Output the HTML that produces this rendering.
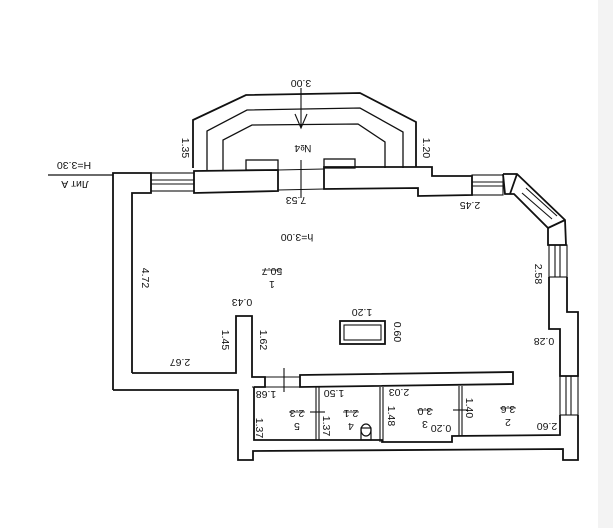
<!DOCTYPE html>
<html><head><meta charset="utf-8"><style>
html,body{margin:0;padding:0;background:#fff;}
svg{display:block;}
text{font-family:"Liberation Sans",sans-serif;font-size:10.5px;fill:#111;}
</style></head><body>
<svg width="613" height="528" viewBox="0 0 613 528" xmlns="http://www.w3.org/2000/svg">
<rect x="0" y="0" width="613" height="528" fill="#fff"/>
<rect x="598" y="0" width="15" height="528" fill="#f3f3f3"/>
<g fill="none" stroke="#111" stroke-width="1.8">
<polyline points="193,168 193,120 246,95 360,93 416,122 416,167"/>
<polyline points="207,170 207,131 247,110 360,108 403,132 403,168" stroke-width="1.3"/>
<polyline points="223,170 223,140 252,125 358,124 385,142 385,168" stroke-width="1.3"/>
<rect x="246" y="160" width="32" height="10" stroke-width="1.3"/>
<rect x="324" y="159" width="31" height="9" stroke-width="1.3"/>
<polyline points="113,390 113,173 151,173 151,193 132,193 132,373"/>
<rect x="151" y="173" width="43" height="18" stroke-width="1.1"/>
<line x1="151" y1="180" x2="194" y2="180" stroke-width="1.1"/>
<line x1="151" y1="184" x2="194" y2="184" stroke-width="1.1"/>
<polygon points="194,171 278,170 278,191 194,193" />
<line x1="278" y1="170" x2="324" y2="169" stroke-width="1.1"/>
<line x1="278" y1="190" x2="324" y2="189" stroke-width="1.1"/>
<polygon points="324,167 432,167 432,176 472,176 472,195 418,196 418,188 324,189"/>
<rect x="472" y="175" width="31" height="20" stroke-width="1.1"/>
<line x1="472" y1="182" x2="503" y2="182" stroke-width="1.1"/>
<line x1="472" y1="186" x2="503" y2="186" stroke-width="1.1"/>
<polyline points="503,174 517,174 565,220 566,245 548,245 548,228 514,194 505,194 503,174"/>
<line x1="517" y1="174" x2="510" y2="194"/>
<line x1="565" y1="220" x2="548" y2="228"/>
<line x1="522" y1="193" x2="552" y2="219" stroke-width="1.1"/>
<line x1="526" y1="188" x2="557" y2="216" stroke-width="1.1"/>
<rect x="549" y="245" width="18" height="32" stroke-width="1.1"/>
<line x1="555" y1="245" x2="555" y2="277" stroke-width="1.1"/>
<line x1="560" y1="245" x2="560" y2="277" stroke-width="1.1"/>
<polyline points="549,277 549,329 560,329 560,376 578,376 578,312 567,312 567,277"/>
<rect x="560" y="376" width="18" height="39" stroke-width="1.1"/>
<line x1="566" y1="376" x2="566" y2="415" stroke-width="1.1"/>
<line x1="571" y1="376" x2="571" y2="415" stroke-width="1.1"/>
<polyline points="560,415 560,435 452,436 452,442 382,442 382,440 254,440 254,387"/>
<polyline points="578,415 578,460 563,460 563,449 253,451 253,460 238,460 238,390 113,390"/>
<polyline points="132,373 236,373 236,316 252,316 252,377 265,377 265,387 254,387"/>
<line x1="252" y1="387" x2="300" y2="387" stroke-width="1.1"/>
<line x1="265" y1="377" x2="300" y2="377" stroke-width="1.1"/>
<line x1="284" y1="368" x2="284" y2="392" stroke-width="1.1"/>
<polygon points="300,375 513,372 513,384 300,387"/>
<line x1="316" y1="387" x2="316" y2="440" stroke-width="1.1"/>
<line x1="319" y1="387" x2="319" y2="440" stroke-width="1.1"/>
<line x1="380" y1="387" x2="380" y2="442" stroke-width="1.1"/>
<line x1="383" y1="387" x2="383" y2="442" stroke-width="1.1"/>
<line x1="459" y1="386" x2="459" y2="436" stroke-width="1.1"/>
<line x1="462" y1="386" x2="462" y2="436" stroke-width="1.1"/>
<line x1="310" y1="412" x2="325" y2="412" stroke-width="1.1"/>
<line x1="453" y1="410" x2="468" y2="410" stroke-width="1.1"/>
<rect x="340" y="321" width="45" height="23"/>
<rect x="344" y="325" width="37" height="15" stroke-width="1.1"/>
<ellipse cx="366" cy="430" rx="5" ry="6" stroke-width="1.2"/>
<rect x="361" y="428" width="10" height="12" stroke-width="1.2"/>
<line x1="48" y1="175" x2="113" y2="175" stroke-width="1.2"/>
<line x1="301" y1="88" x2="301" y2="128" stroke-width="1.1"/>
<polyline points="295,114 301,128 307,114" stroke-width="1.1"/>
<line x1="301" y1="160" x2="301" y2="198" stroke-width="1.1"/>
</g>
<g>
<text transform="translate(301,80) rotate(180)" text-anchor="middle">3.00</text>
<text transform="translate(303,145) rotate(180)" text-anchor="middle">№4</text>
<text transform="translate(182,148) rotate(90)" text-anchor="middle">1.35</text>
<text transform="translate(423,148) rotate(90)" text-anchor="middle">1.20</text>
<text transform="translate(74,162) rotate(180)" text-anchor="middle">Н=3.30</text>
<text transform="translate(75,181) rotate(180)" text-anchor="middle">Лит А</text>
<text transform="translate(296,197) rotate(180)" text-anchor="middle">7.53</text>
<text transform="translate(470,202) rotate(180)" text-anchor="middle">2.45</text>
<text transform="translate(297,234) rotate(180)" text-anchor="middle">h=3.00</text>
<text transform="translate(142,278) rotate(90)" text-anchor="middle">4.72</text>
<text transform="translate(272,268) rotate(180)" text-anchor="middle">50.7</text>
<text transform="translate(272,281) rotate(180)" text-anchor="middle">1</text>
<line x1="262" y1="270" x2="282" y2="270" stroke="#111" stroke-width="0.8"/>
<text transform="translate(242,299) rotate(180)" text-anchor="middle">0.43</text>
<text transform="translate(362,309) rotate(180)" text-anchor="middle">1.20</text>
<text transform="translate(394,332) rotate(90)" text-anchor="middle">0.60</text>
<text transform="translate(222,340) rotate(90)" text-anchor="middle">1.45</text>
<text transform="translate(260,340) rotate(90)" text-anchor="middle">1.62</text>
<text transform="translate(180,359) rotate(180)" text-anchor="middle">2.67</text>
<text transform="translate(535,274) rotate(90)" text-anchor="middle">2.58</text>
<text transform="translate(544,338) rotate(180)" text-anchor="middle">0.28</text>
<text transform="translate(266,391) rotate(180)" text-anchor="middle">1.68</text>
<text transform="translate(334,390) rotate(180)" text-anchor="middle">1.50</text>
<text transform="translate(399,389) rotate(180)" text-anchor="middle">2.03</text>
<text transform="translate(297,410) rotate(180)" text-anchor="middle">2.3</text>
<text transform="translate(297,423) rotate(180)" text-anchor="middle">5</text>
<line x1="289" y1="412" x2="305" y2="412" stroke="#111" stroke-width="0.8"/>
<text transform="translate(351,410) rotate(180)" text-anchor="middle">2.1</text>
<text transform="translate(351,423) rotate(180)" text-anchor="middle">4</text>
<line x1="343" y1="412" x2="359" y2="412" stroke="#111" stroke-width="0.8"/>
<text transform="translate(425,408) rotate(180)" text-anchor="middle">3.0</text>
<text transform="translate(425,421) rotate(180)" text-anchor="middle">3</text>
<line x1="417" y1="410" x2="433" y2="410" stroke="#111" stroke-width="0.8"/>
<text transform="translate(508,406) rotate(180)" text-anchor="middle">3.6</text>
<text transform="translate(508,419) rotate(180)" text-anchor="middle">2</text>
<line x1="500" y1="408" x2="516" y2="408" stroke="#111" stroke-width="0.8"/>
<text transform="translate(256,428) rotate(90)" text-anchor="middle">1.37</text>
<text transform="translate(323,426) rotate(90)" text-anchor="middle">1.37</text>
<text transform="translate(388,416) rotate(90)" text-anchor="middle">1.48</text>
<text transform="translate(466,408) rotate(90)" text-anchor="middle">1.40</text>
<text transform="translate(441,425) rotate(180)" text-anchor="middle">0.20</text>
<text transform="translate(547,423) rotate(180)" text-anchor="middle">2.60</text>
</g>
</svg>
</body></html>
